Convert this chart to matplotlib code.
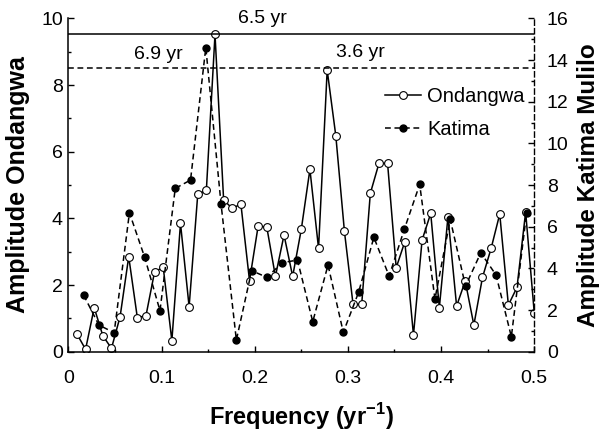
import matplotlib
matplotlib.use("Agg")
import matplotlib.pyplot as plt
from matplotlib.ticker import MultipleLocator, FormatStrFormatter
from matplotlib.lines import Line2D

plt.rcParams["font.family"] = ["Liberation Sans", "DejaVu Sans"]
plt.rcParams["mathtext.fontset"] = "custom"
plt.rcParams["mathtext.rm"] = "Liberation Sans"
plt.rcParams["mathtext.bf"] = "Liberation Sans:bold"

# ------------------------------
# Data
# ------------------------------
n_ondangwa = 108   # record length, years
n_katima = 61

ondangwa_amp = [0.53, 0.07, 1.32, 0.48, 0.10, 1.05, 2.85, 1.02, 1.08, 2.40,
                2.53, 0.33, 3.85, 1.35, 4.72, 4.85, 9.52, 4.55, 4.30, 4.43,
                2.13, 3.77, 3.74, 2.26, 3.50, 2.26, 3.67, 5.47, 3.10, 8.45,
                6.48, 3.61, 1.42, 1.42, 4.75, 5.65, 5.65, 2.52, 3.30, 0.50,
                3.35, 4.15, 1.32, 4.05, 1.37, 2.12, 0.80, 2.23, 3.10, 4.13,
                1.40, 1.93, 4.19, 1.17]
katima_amp = [2.72, 1.28, 0.91, 6.67, 4.53, 1.97, 7.84, 8.24, 14.6, 7.07,
              0.56, 3.89, 3.57, 4.27, 4.40, 1.44, 4.16, 0.93, 2.85, 5.49,
              3.63, 5.89, 8.03, 2.53, 6.35, 3.15, 4.75, 3.68, 0.72, 6.67]

ondangwa_freq = [k / n_ondangwa for k in range(1, len(ondangwa_amp) + 1)]
katima_freq = [k / n_katima for k in range(1, len(katima_amp) + 1)]

ondangwa_sig = 9.52   # solid reference line (left axis units)
katima_sig = 8.50     # dashed reference line (left axis units)

peak_labels = ["6.5 yr", "6.9 yr", "3.6 yr"]
peak_label_pos = [(0.208, 10.0), (0.097, 8.93), (0.314, 8.98)]

# ------------------------------
# Plot
# ------------------------------
dash = (0, (3.8, 2.4))

fig = plt.figure(figsize=(6.03, 4.32), dpi=100)
ax = fig.add_axes([0.1133, 0.1859, 0.7727, 0.7715])
ax2 = ax.twinx()

ax.plot(ondangwa_freq, ondangwa_amp, color="black", lw=1.1, marker="o",
        ms=5.6, mfc="white", mec="black", mew=0.8)
ax2.plot(katima_freq, katima_amp, color="black", lw=1.1, ls=dash, marker="o",
         ms=5.0, mfc="black", mec="black")

ax.axhline(ondangwa_sig, color="black", lw=1.1)
ax.axhline(katima_sig, color="black", lw=1.1, ls=dash)

for txt, (x, y) in zip(peak_labels, peak_label_pos):
    ax.text(x, y, txt, ha="center", va="center", fontsize=14)

ax.set_xlim(0, 0.5)
ax.set_ylim(0, 10)
ax2.set_ylim(0, 16)

ax.xaxis.set_major_locator(MultipleLocator(0.1))
ax.xaxis.set_minor_locator(MultipleLocator(0.05))
ax.xaxis.set_major_formatter(FormatStrFormatter("%g"))
ax.yaxis.set_major_locator(MultipleLocator(2))
ax.yaxis.set_minor_locator(MultipleLocator(1))
ax.yaxis.set_major_formatter(FormatStrFormatter("%g"))
ax2.yaxis.set_major_locator(MultipleLocator(2))
ax2.yaxis.set_minor_locator(MultipleLocator(1))
ax2.yaxis.set_major_formatter(FormatStrFormatter("%g"))

ax.tick_params(axis="both", which="both", direction="in", labelsize=14,
               top=False, right=False)
ax.tick_params(which="major", length=4, width=1)
ax.tick_params(which="minor", length=2.5, width=1)
ax.tick_params(axis="x", pad=13)
ax.tick_params(axis="y", pad=4)
ax2.tick_params(axis="y", which="both", direction="in", labelsize=14, pad=9)
ax2.tick_params(which="major", length=4, width=1)
ax2.tick_params(which="minor", length=2.5, width=1)

for a in (ax, ax2):
    a.spines["top"].set_visible(False)
    a.spines["left"].set_linewidth(1.1)
    a.spines["bottom"].set_linewidth(1.1)
ax.spines["right"].set_visible(False)
ax2.spines["left"].set_visible(False)
ax2.spines["bottom"].set_visible(False)
ax2.spines["right"].set_linestyle(dash)
ax2.spines["right"].set_linewidth(1.0)

ax.set_xlabel(r"Frequency (yr$^{\mathbf{-1}}$)", fontsize=17, fontweight="bold",
              labelpad=10)
ax.set_ylabel("Amplitude Ondangwa", fontsize=18, fontweight="bold", labelpad=8)
ax2.set_ylabel("Amplitude Katima Mulilo", fontsize=17.5, fontweight="bold",
               labelpad=6)

handles = [
    Line2D([], [], color="black", lw=1.1, marker="o", ms=5.6, mfc="white",
           mec="black", mew=0.8),
    Line2D([], [], color="black", lw=1.1, ls=dash, marker="o", ms=5.0,
           mfc="black", mec="black"),
]
ax2.legend(handles, ["Ondangwa", "Katima"], loc="upper right",
           bbox_to_anchor=(0.98, 0.795), frameon=False, fontsize=14.5,
           borderaxespad=0, borderpad=0, handlelength=1.8,
           handletextpad=0.3, labelspacing=0.7)

fig.savefig("out.png", dpi=100)
